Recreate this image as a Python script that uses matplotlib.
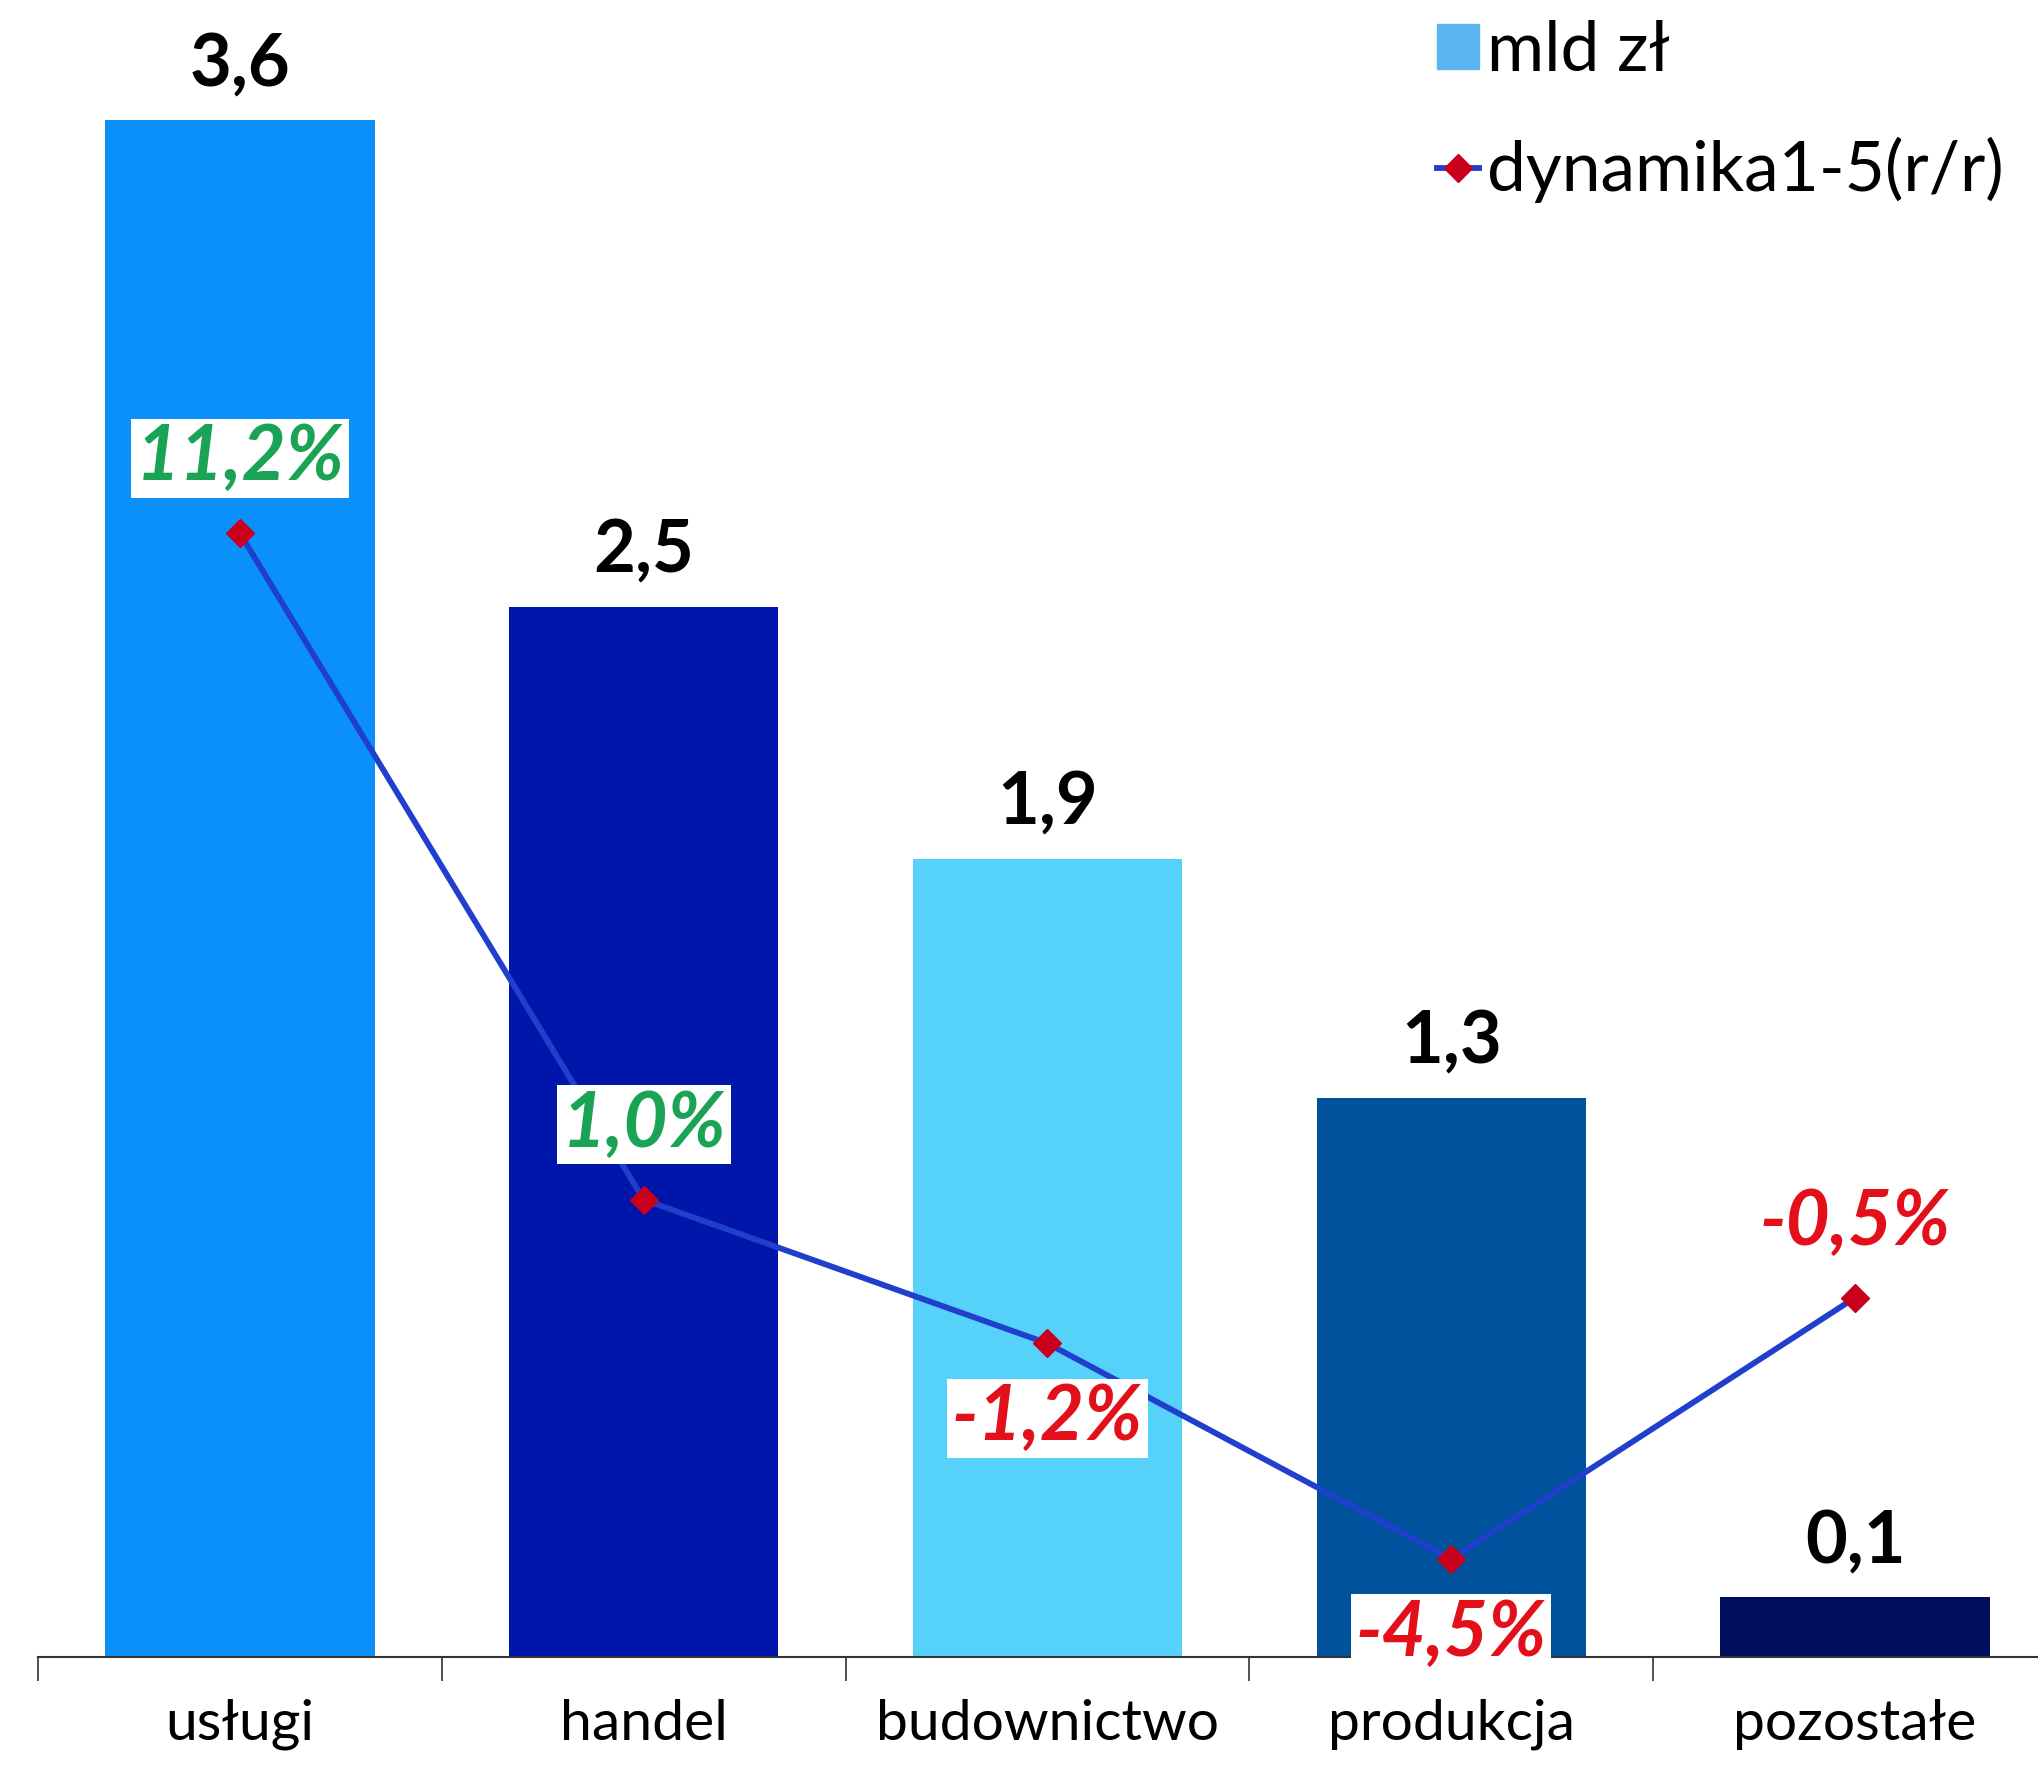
import matplotlib
matplotlib.use("Agg")
import matplotlib.pyplot as plt
from matplotlib.patches import Patch
from matplotlib.lines import Line2D

plt.rcParams['font.family'] = ['Lato', 'DejaVu Sans']

# data
categories = ["usługi", "handel", "budownictwo", "produkcja", "pozostałe"]
mld_zl = [3.6, 2.46, 1.87, 1.31, 0.14]
dynamika = [11.2, 1.0, -1.2, -4.5, -0.5]

bar_colors = ['#0a90f8', '#0015aa', '#56d2fa', '#00529c', '#000e5e']
line_color = '#1f3fcc'
marker_color = '#c8001e'


def fmt(v, suffix=""):
    return f"{v:.1f}".replace(".", ",") + suffix


W, H = 2038, 1767
fig = plt.figure(figsize=(W / 100, H / 100), dpi=100)
ax = fig.add_axes([38 / W, (H - 1657) / H, 2019 / W, 1568 / H])
ax2 = ax.twinx()

x = list(range(len(categories)))
ax.bar(x, mld_zl, width=0.667, color=bar_colors, zorder=2)
ax.set_xlim(-0.5, len(categories) - 0.5)
ax.set_ylim(0, 1568 / 427)

for xi, v in zip(x, mld_zl):
    ax.annotate(fmt(v), (xi, v), xytext=(0, 25), textcoords='offset points',
                ha='center', va='baseline', fontsize=52, fontweight='bold', color='black')

# axis look
for s in ['top', 'right', 'left']:
    ax.spines[s].set_visible(False)
    ax2.spines[s].set_visible(False)
ax2.spines['bottom'].set_visible(False)
ax.spines['bottom'].set_linewidth(1.5)
ax.spines['bottom'].set_color('#333333')
ax.set_yticks([])
ax2.set_yticks([])
ax.set_xticks(x)
ax.set_xticklabels(categories, fontsize=41)
ax.tick_params(axis='x', which='major', length=0, pad=30)
ax.set_xticks([i - 0.5 for i in range(len(categories) + 1)], minor=True)
ax.tick_params(axis='x', which='minor', length=17, width=1.2, color='#333333')

# line series
ax2.set_ylim(-6, 18)
ax2.plot(x, dynamika, color=line_color, lw=4.2, marker='D', markersize=14,
         markerfacecolor=marker_color, markeredgecolor=marker_color, zorder=3)

for xi, v in zip(x, dynamika):
    col = '#1aa355' if v > 0 else '#e3101c'
    up = v > 0 or xi == len(x) - 1
    ax2.annotate(fmt(v, "%"), (xi, v), xytext=(0, 54 if up else -54),
                 textcoords='offset points', ha='center', va='center',
                 fontsize=55, fontweight='bold', fontstyle='italic', color=col,
                 bbox=dict(boxstyle='square,pad=0.06', fc='white', ec='none'),
                 zorder=5)

handles = [Patch(color='#5bb5f0', label='mld zł'),
           Line2D([0], [0], color=line_color, lw=4.2, marker='D', markersize=14,
                  markerfacecolor=marker_color, markeredgecolor=marker_color,
                  label='dynamika1-5(r/r)')]
fig.legend(handles=handles, loc='upper left', bbox_to_anchor=(1437 / W, 1 - 20 / H),
           frameon=False, fontsize=50, handlelength=0.6, handleheight=0.63,
           handletextpad=0.12, labelspacing=0.78, borderpad=0, borderaxespad=0)

fig.savefig("out.png", dpi=100)
